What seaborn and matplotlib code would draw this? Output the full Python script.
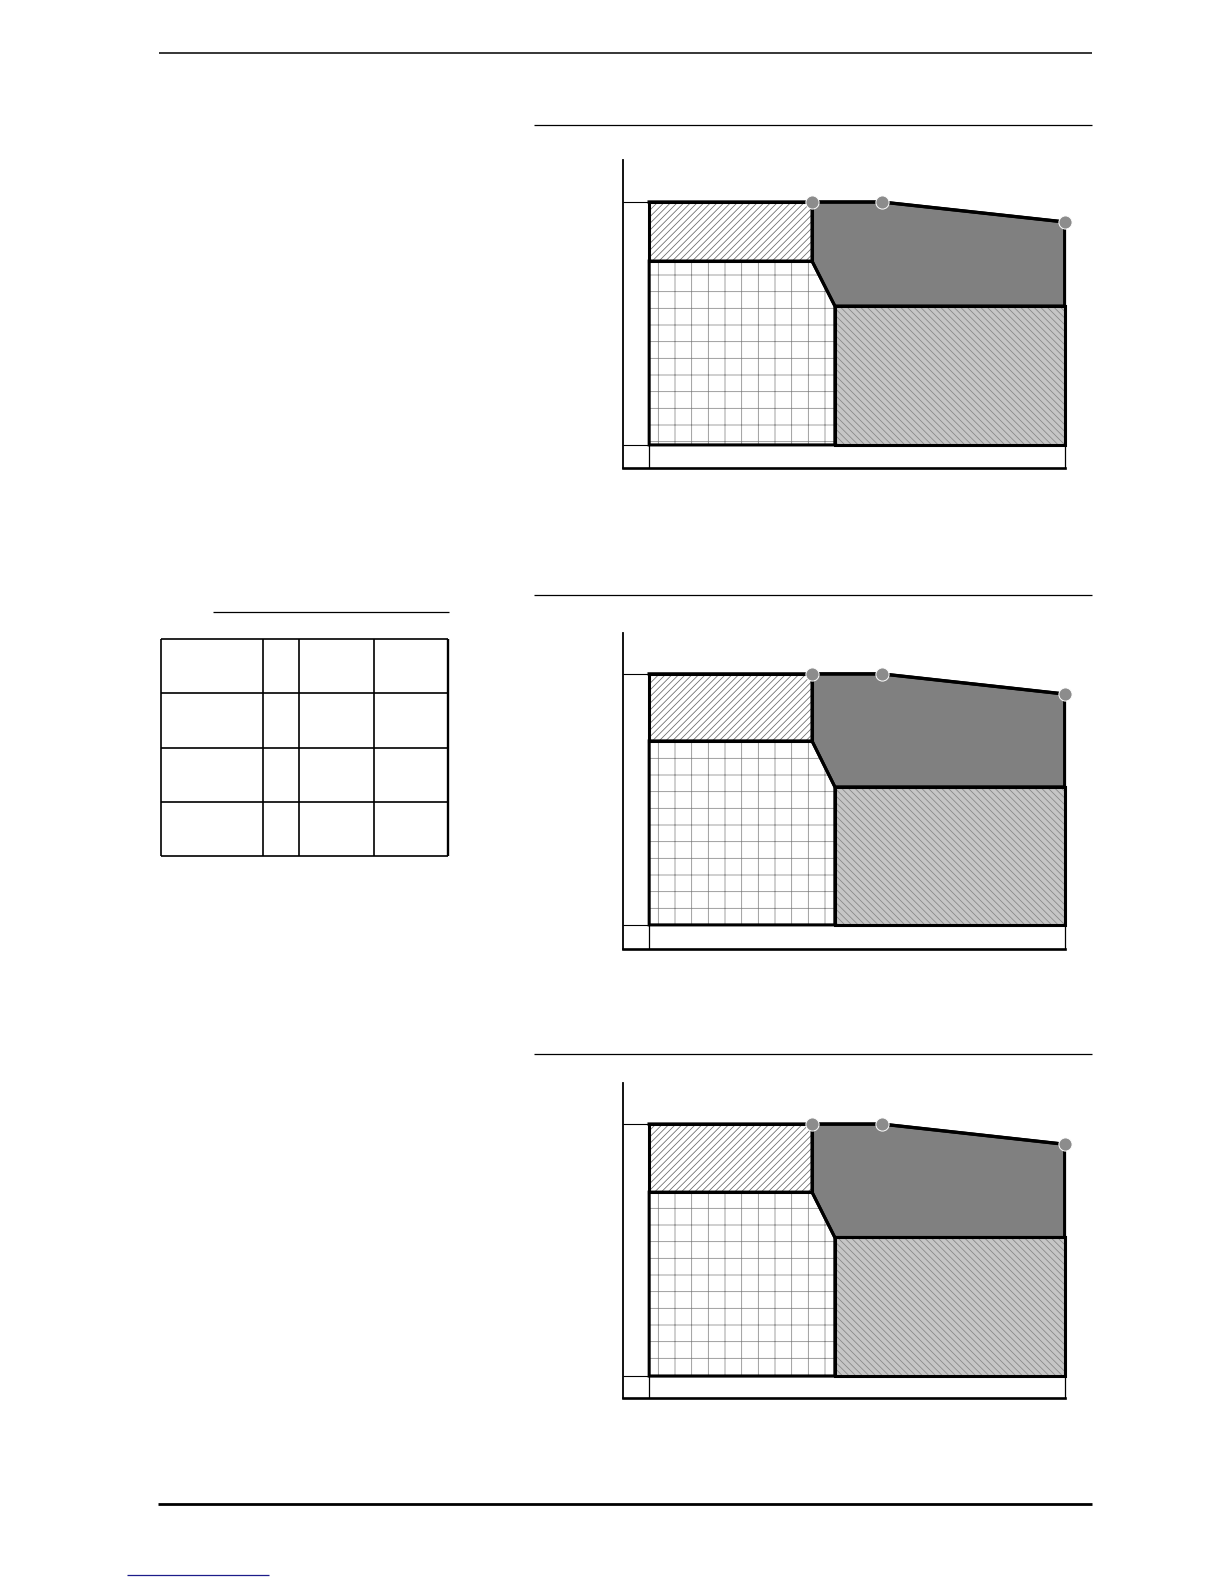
"""
Operating envelope page: three identical envelope diagrams on the right,
an empty table on the left and the page rules.
"""

import pandas as pd
import seaborn as sns
import matplotlib.pyplot as plt


# ---------------------------------------------------------------------
# Envelope data (relative units, operating area spans 0..100 on each axis)
# ---------------------------------------------------------------------
X_LEFT = 0.0
X_SPLIT_TOP = 39.2      # hatched / dark boundary
X_SPLIT_BOTTOM = 44.7   # grid / light boundary
X_KNEE = 56.0
X_RIGHT = 100.0

Y_BOTTOM = 0.0
Y_TOP = 100.0

# one value per diagram (top, middle, bottom)
HATCH_Y = [75.7, 73.3, 73.0]
DARK_Y = [57.2, 55.0, 55.0]
RIGHT_Y = [91.8, 92.0, 92.0]

TICKS = [0.0, 100.0]

# ---------------------------------------------------------------------
# Page layout (pixels on a 1224 x 1584 page)
# ---------------------------------------------------------------------
W, H = 1224, 1584
XLIM = (-6.3, 100.1)
PANELS = [
    # left, top, right, bottom, ylim
    (623, 160, 1065, 468, (-9.5, 117.3)),
    (623, 633, 1065, 949, (-9.6, 116.3)),
    (623, 1083, 1065, 1398, (-8.7, 116.3)),
]
RULE_RIGHT = 1092
SECTION_RULES_Y = [125, 595, 1054]
TABLE_COLS = [161, 263, 299, 374, 448]
TABLE_ROWS = [639, 693, 748, 802, 856]

DARK = "#808080"
LIGHT = "#c6c6c6"
POINT = "#8c8c8c"

plt.rcParams.update({
    "hatch.linewidth": 0.55,
    "lines.solid_joinstyle": "miter",
})


def draw_envelope(ax, hatch_y, dark_y, right_y):
    regions = [
        # xs, ys, face, hatch, hatch colour
        ([X_LEFT, X_LEFT, X_SPLIT_TOP, X_SPLIT_TOP],
         [hatch_y, Y_TOP, Y_TOP, hatch_y], "white", "/////", "#666666"),
        ([X_LEFT, X_LEFT, X_SPLIT_TOP, X_SPLIT_BOTTOM, X_SPLIT_BOTTOM],
         [Y_BOTTOM, hatch_y, hatch_y, dark_y, Y_BOTTOM], "white", "+", "#858585"),
        ([X_SPLIT_TOP, X_KNEE, X_RIGHT, X_RIGHT, X_SPLIT_BOTTOM, X_SPLIT_TOP],
         [Y_TOP, Y_TOP, right_y, dark_y, dark_y, hatch_y], DARK, None, DARK),
        ([X_SPLIT_BOTTOM, X_SPLIT_BOTTOM, X_RIGHT, X_RIGHT],
         [Y_BOTTOM, dark_y, dark_y, Y_BOTTOM], LIGHT, "\\\\\\\\\\", "#858585"),
    ]
    for xs, ys, face, hatch, hcol in regions:
        ax.fill(xs, ys, facecolor=face, edgecolor=hcol, hatch=hatch,
                linewidth=0, zorder=2, clip_on=False)
        ax.fill(xs, ys, fill=False, edgecolor="black", linewidth=2.2,
                joinstyle="miter", zorder=3, clip_on=False)

    boundary = pd.DataFrame({
        "x": [X_LEFT, X_SPLIT_TOP, X_KNEE, X_RIGHT],
        "y": [Y_TOP, Y_TOP, Y_TOP, right_y],
    })
    sns.lineplot(data=boundary, x="x", y="y", sort=False, estimator=None,
                 color="black", linewidth=2.4, ax=ax, zorder=4, clip_on=False)

    points = pd.DataFrame({
        "x": [X_SPLIT_TOP, X_KNEE, X_RIGHT],
        "y": [Y_TOP, Y_TOP, right_y],
    })
    sns.scatterplot(data=points, x="x", y="y", s=90, color=POINT,
                    edgecolor="white", linewidth=0.7, ax=ax, zorder=5,
                    clip_on=False, legend=False)


def style_axes(ax, box, ylim):
    left, top, right, bottom = box
    ax.set_xlim(*XLIM)
    ax.set_ylim(*ylim)
    ax.patch.set_alpha(0)
    sns.despine(ax=ax)
    ax.spines["left"].set_linewidth(1.3)
    ax.spines["bottom"].set_linewidth(1.9)
    ax.spines["bottom"].set_capstyle("projecting")
    for side in ("left", "bottom"):
        ax.spines[side].set_color("black")

    px_x = (right - left) / (XLIM[1] - XLIM[0])
    px_y = (bottom - top) / (ylim[1] - ylim[0])
    ax.set_xticks(TICKS)
    ax.set_yticks(TICKS)
    ax.set_xticklabels([])
    ax.set_yticklabels([])
    ax.tick_params(axis="y", direction="in", left=True, color="black",
                   width=0.8, length=(0 - XLIM[0]) * px_x * 0.72)
    ax.tick_params(axis="x", direction="in", bottom=True, color="black",
                   width=0.9, length=(0 - ylim[0]) * px_y * 0.72)
    ax.set_xlabel("")
    ax.set_ylabel("")


def main() -> None:
    fig = plt.figure(figsize=(W / 100, H / 100), dpi=100)

    # page furniture in pixel coordinates
    page = fig.add_axes([0, 0, 1, 1])
    page.set_xlim(0, W)
    page.set_ylim(H, 0)
    page.axis("off")
    page.hlines(53, 159, RULE_RIGHT, color="black", linewidth=1.1)
    page.hlines(SECTION_RULES_Y, 534, RULE_RIGHT, color="black", linewidth=0.9)
    page.hlines(612, 213, 449, color="black", linewidth=0.9)
    page.hlines(1504, 158, RULE_RIGHT, color="black", linewidth=2.0)
    page.hlines(1575, 127, 269, color="#1c1c8a", linewidth=0.9)

    # empty table
    page.hlines(TABLE_ROWS, TABLE_COLS[0], TABLE_COLS[-1], color="black", linewidth=1.2)
    page.vlines(TABLE_COLS, TABLE_ROWS[0], TABLE_ROWS[-1], color="black", linewidth=1.2)
    page.vlines([TABLE_COLS[-1]], TABLE_ROWS[0], TABLE_ROWS[-1], color="black", linewidth=1.7)

    for i, (left, top, right, bottom, ylim) in enumerate(PANELS):
        ax = fig.add_axes([left / W, 1 - bottom / H, (right - left) / W, (bottom - top) / H])
        draw_envelope(ax, HATCH_Y[i], DARK_Y[i], RIGHT_Y[i])
        style_axes(ax, (left, top, right, bottom), ylim)

    fig.savefig("out.png", dpi=100)


if __name__ == "__main__":
    main()
